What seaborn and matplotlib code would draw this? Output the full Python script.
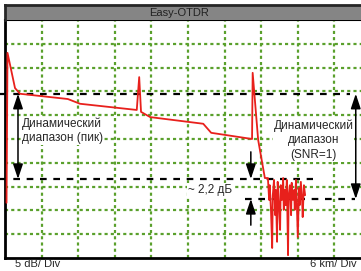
import numpy as np
import pandas as pd
import seaborn as sns
import matplotlib.pyplot as plt

# trace, km / dB
trace_km = [0.25, 0.41, 1.64, 2.46, 10.3, 12.3, 21.6, 22.0, 22.3, 23.8, 32.5, 33.8, 40.5, 40.6, 41.5, 42.6,
            43.1, 43.3, 43.4, 43.6, 43.8, 43.9, 44.1, 44.3, 44.4, 44.6, 44.7, 44.9, 45.1, 45.2, 45.4, 45.6,
            45.7, 45.9, 46.0, 46.2, 46.4, 46.5, 46.7, 46.9, 47.0, 47.2, 47.4, 47.5, 47.7, 47.8, 48.0, 48.2,
            48.3, 48.5, 48.7, 48.8, 49.0, 49.2]
trace_db = [11.6, 43.1, 35.7, 34.5, 33.4, 32.4, 31.1, 38.0, 30.7, 29.6, 28.2, 26.3, 25.0, 38.9, 24.8, 16.8,
            16.8, 12.2, 15.3, 10.1, 2.1, 13.2, 16.4, 9.0, 14.3, 3.4, 16.0, 11.1, 5.9, 15.3, 12.2, 16.8,
            10.1, 14.3, 11.1, 16.4, 0.6, 13.2, 15.3, 9.0, 15.8, 12.2, 14.3, 10.1, 16.4, 13.2, 4.4, 14.7,
            11.1, 16.0, 12.2, 8.6, 15.3, 13.2]

# reference levels (dB) and their extent (km)
peak_level = 34.5
peak_span = (-0.8, 56.5)
snr_top = 16.6
snr_top_span = (-0.8, 50.5)
noise_level = 12.4
noise_span = (39.3, 57.4)

x_max = 58.36
y_max = 50
km_div = 6
db_div = 5

df = pd.DataFrame({"km": trace_km, "db": trace_db})

sns.set_style("white")
plt.rcParams["font.family"] = ["Liberation Sans", "DejaVu Sans"]

W, H = 361, 271
fig = plt.figure(figsize=(W / 100, H / 100), dpi=100)
ax = fig.add_axes([5 / W, 13 / H, 356 / W, 238 / H])

# grid
for gx in np.arange(km_div, x_max, km_div):
    ax.axvline(gx, color="#5aa02c", lw=1.6, ls=(0, (1.4, 1.4)), zorder=1)
for gy in np.arange(db_div, y_max, db_div):
    ax.axhline(gy, color="#5aa02c", lw=1.6, ls=(0, (1.4, 1.4)), zorder=1)

sns.lineplot(data=df, x="km", y="db", ax=ax, color="#e8201c", lw=1.3, sort=False,
             estimator=None, zorder=4)

# dashed levels
dash = (0, (3, 3))
ax.plot(peak_span, [peak_level] * 2, color="black", lw=1.6, ls=dash, zorder=3, clip_on=False)
ax.plot(snr_top_span, [snr_top] * 2, color="black", lw=1.6, ls=dash, zorder=3, clip_on=False)
ax.plot(noise_span, [noise_level] * 2, color="black", lw=1.6, ls=dash, zorder=3, clip_on=False)

arr = dict(arrowstyle="<|-|>,head_length=0.45,head_width=0.15", mutation_scale=20,
           color="black", lw=1.1, shrinkA=0, shrinkB=0)
ax.annotate("", xy=(2.13, peak_level), xytext=(2.13, snr_top), arrowprops=arr, zorder=5)
ax.annotate("", xy=(57.5, peak_level), xytext=(57.5, noise_level), arrowprops=arr,
            zorder=5, annotation_clip=False)
one = dict(arrowstyle="-|>,head_length=0.45,head_width=0.15", mutation_scale=20,
           color="black", lw=1.1, shrinkA=0, shrinkB=0)
ax.annotate("", xy=(40.3, snr_top), xytext=(40.3, 22.3), arrowprops=one, zorder=5)
ax.annotate("", xy=(40.3, noise_level), xytext=(40.3, 6.9), arrowprops=one, zorder=5)

box = dict(facecolor="white", edgecolor="none", pad=0.5)
ax.text(2.8, 26.7, "Динамический\nдиапазон (пик)", fontsize=8.5, ha="left", va="center",
        linespacing=1.15, bbox=box, zorder=6)
ax.text(50.6, 24.8, "Динамический\nдиапазон\n(SNR=1)", fontsize=8.5, ha="center", va="center",
        multialignment="center", linespacing=1.3, bbox=box, zorder=6)
ax.text(30.0, 14.3, "~ 2,2 дБ", fontsize=8.5, ha="left", va="center", bbox=box, zorder=6)

ax.set_xlim(0, x_max)
ax.set_ylim(0, y_max)
ax.set_xticks([])
ax.set_yticks([])
ax.set_xlabel("")
ax.set_ylabel("")
ax.spines["right"].set_visible(False)
ax.spines["left"].set_linewidth(2)
ax.spines["bottom"].set_linewidth(2)
ax.spines["top"].set_linewidth(1.5)
for s in ["left", "bottom", "top"]:
    ax.spines[s].set_color("black")

# title bar
tb = fig.add_axes([5 / W, 251 / H, 356 / W, 15 / H])
tb.set_facecolor("#858585")
tb.set_xticks([])
tb.set_yticks([])
tb.spines["right"].set_visible(False)
tb.spines["bottom"].set_visible(False)
tb.spines["top"].set_linewidth(2)
tb.spines["left"].set_linewidth(2)
tb.text(0.49, 0.45, "Easy-OTDR", fontsize=8, ha="center", va="center", color="#222222",
        transform=tb.transAxes)

fig.text(15 / W, 7 / H, "5 dB/ Div", fontsize=8, ha="left", va="center")
fig.text(357 / W, 7 / H, "6 km/ Div", fontsize=8, ha="right", va="center")

fig.savefig("out.png", dpi=100)
